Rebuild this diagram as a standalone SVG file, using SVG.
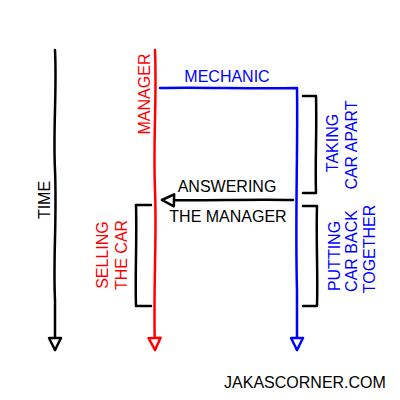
<svg xmlns="http://www.w3.org/2000/svg" width="400" height="400" viewBox="0 0 400 400">
<style>
text{font-family:"Liberation Sans","DejaVu Sans",sans-serif;font-size:16px}
.k{fill:#000}.r{fill:#ff0000}.b{fill:#0000ff}
.ln{fill:none;stroke-width:2.5;stroke-linecap:round;stroke-linejoin:round}
.bk{stroke:#000}.rd{stroke:#ff0000}.bl{stroke:#0000ff}
</style>
<defs>
<marker id="ak" markerUnits="userSpaceOnUse" markerWidth="16" markerHeight="16" viewBox="0 0 16 16" refX="14" refY="8" orient="auto"><path d="M2,2 L14,8 L2,14 Z" fill="#fff" stroke="#000" stroke-width="2.5" stroke-linejoin="round"/></marker>
<marker id="ar" markerUnits="userSpaceOnUse" markerWidth="16" markerHeight="16" viewBox="0 0 16 16" refX="14" refY="8" orient="auto"><path d="M2,2 L14,8 L2,14 Z" fill="#fff" stroke="#ff0000" stroke-width="2.5" stroke-linejoin="round"/></marker>
<marker id="ab" markerUnits="userSpaceOnUse" markerWidth="16" markerHeight="16" viewBox="0 0 16 16" refX="14" refY="8" orient="auto"><path d="M2,2 L14,8 L2,14 Z" fill="#fff" stroke="#0000ff" stroke-width="2.5" stroke-linejoin="round"/></marker>
</defs>
<g id="connectors">
<path class="ln bk" d="M55,50 C57,90 53,130 55,170 C57,220 53,260 55,300 L55,350" marker-end="url(#ak)"/>
<path class="ln rd" d="M155,50 C157,100 153,140 155,190 C157,240 153,290 155,350" marker-end="url(#ar)"/>
<path class="ln bl" d="M160,88 C200,87 250,89 297,88 C298,150 295,220 297,290 L297,350" marker-end="url(#ab)"/>
<path class="ln bk" d="M293,200 C250,199 200,201 162,200" marker-end="url(#ak)"/>
</g>
<g id="time"><text class="k" transform="translate(50,200) rotate(-90)" text-anchor="middle">TIME</text></g>
<g id="manager"><text class="r" transform="translate(150,94) rotate(-90)" text-anchor="middle">MANAGER</text></g>
<g id="mechanic"><text class="b" x="227" y="82" text-anchor="middle">MECHANIC</text></g>
<g id="answering">
<text class="k" x="227" y="192" text-anchor="middle">ANSWERING</text>
<text class="k" x="228" y="222" text-anchor="middle">THE MANAGER</text>
</g>
<g id="taking">
<path class="ln bk" d="M303,96 L316,96 C317,130 315,160 316,193 L303,193"/>
<text class="b" transform="translate(338,143) rotate(-90)" text-anchor="middle">TAKING</text>
<text class="b" transform="translate(357,145) rotate(-90)" text-anchor="middle">CAR APART</text>
</g>
<g id="putting">
<path class="ln bk" d="M303,206 L317,206 C316,240 318,275 317,306 L303,306"/>
<text class="b" transform="translate(340,256) rotate(-90)" text-anchor="middle">PUTTING</text>
<text class="b" transform="translate(357,251) rotate(-90)" text-anchor="middle">CAR BACK</text>
<text class="b" transform="translate(375,249) rotate(-90)" text-anchor="middle">TOGETHER</text>
</g>
<g id="selling">
<path class="ln bk" d="M151,205 L136,205 C137,240 135,275 136,306 L151,306"/>
<text class="r" transform="translate(108,255) rotate(-90)" text-anchor="middle">SELLING</text>
<text class="r" transform="translate(127,255) rotate(-90)" text-anchor="middle">THE CAR</text>
</g>
<g id="credit"><text class="k" x="305" y="388" text-anchor="middle">JAKASCORNER.COM</text></g>
</svg>
